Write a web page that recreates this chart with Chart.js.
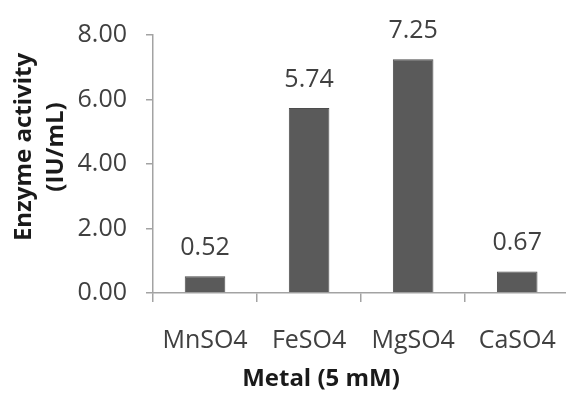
<!DOCTYPE html>
<html>
<head>
<meta charset="utf-8">
<script src="https://cdn.jsdelivr.net/npm/chart.js@4.4.1/dist/chart.umd.min.js"></script>
<style>
  html, body { margin: 0; padding: 0; background: #fff; overflow: hidden; }
  canvas { display: block; }
</style>
</head>
<body>
<canvas id="chart" width="580" height="397"></canvas>
<script>
// Enzyme activity measured with different metal salts (5 mM)
const metals = ['MnSO4', 'FeSO4', 'MgSO4', 'CaSO4'];
const activity = [0.52, 5.74, 7.25, 0.67];
const yTicks = [0, 2, 4, 6, 8];

const FONT = '"Open Sans", "Liberation Sans", sans-serif';
const TEXT = '#404040';
const AXIS = '#a3a3a3';

// value labels above each bar, placed from the bar elements themselves
const valueLabels = {
  id: 'valueLabels',
  afterDatasetsDraw(chart) {
    const ctx = chart.ctx;
    const meta = chart.getDatasetMeta(0);
    ctx.save();
    ctx.font = '25px ' + FONT;
    ctx.fillStyle = TEXT;
    ctx.textAlign = 'center';
    ctx.textBaseline = 'alphabetic';
    meta.data.forEach((bar, i) => {
      ctx.fillText(activity[i].toFixed(2), bar.x, bar.y - 21);
    });
    ctx.restore();
  }
};

// axis titles
const axisTitles = {
  id: 'axisTitles',
  afterDraw(chart) {
    const ctx = chart.ctx;
    ctx.save();
    ctx.font = 'bold 24px ' + FONT;
    ctx.fillStyle = '#1a1a1a';
    ctx.textAlign = 'center';
    ctx.textBaseline = 'middle';
    ctx.fillText('Metal (5 mM)', 321, 379);
    ctx.translate(0, 147);
    ctx.rotate(-Math.PI / 2);
    ctx.fillText('Enzyme activity', 0, 24);
    ctx.fillText('(IU/mL)', 0, 56);
    ctx.restore();
  }
};

new Chart(document.getElementById('chart'), {
  type: 'bar',
  data: {
    labels: metals,
    datasets: [{
      data: activity,
      backgroundColor: '#5a5a5a',
      borderColor: '#4d4d4d',
      borderWidth: 1,
      barPercentage: 0.39,
      categoryPercentage: 1.0
    }]
  },
  options: {
    responsive: false,
    animation: false,
    layout: { padding: { top: 35, right: 2, left: 0, bottom: 0 } },
    plugins: {
      legend: { display: false },
      tooltip: { enabled: false }
    },
    scales: {
      x: {
        offset: true,
        grid: {
          offset: true,
          drawOnChartArea: false,
          tickLength: 9,
          color: AXIS,
          lineWidth: 1.5
        },
        border: { color: AXIS, width: 1.5 },
        ticks: {
          color: TEXT,
          font: { family: FONT, size: 25 },
          padding: 24,
          maxRotation: 0
        },
        afterFit(scale) { scale.height = 104; }
      },
      y: {
        min: 0,
        max: 8,
        afterBuildTicks(scale) {
          scale.ticks = yTicks.map(v => ({ value: v }));
        },
        grid: {
          drawOnChartArea: false,
          tickLength: 7,
          color: AXIS,
          lineWidth: 1.5
        },
        border: { color: AXIS, width: 1.5 },
        ticks: {
          color: TEXT,
          font: { family: FONT, size: 25 },
          padding: 19,
          callback: v => Number(v).toFixed(2)
        },
        afterFit(scale) { scale.width = 153; }
      }
    }
  },
  plugins: [valueLabels, axisTitles]
});
</script>
</body>
</html>
